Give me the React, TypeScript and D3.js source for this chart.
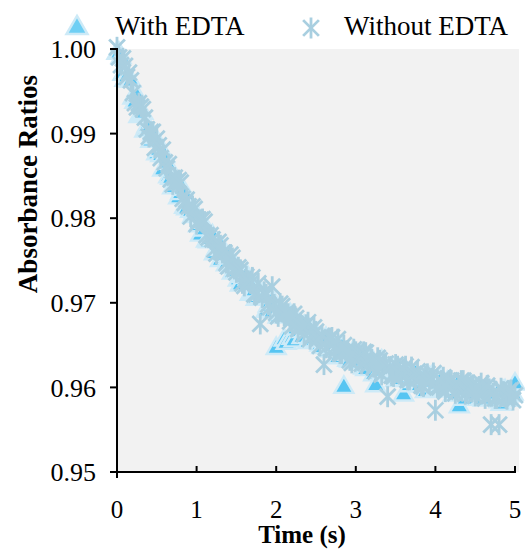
import React from "react";
import * as d3 from "d3";

const times = [
  0, 0.025, 0.05, 0.075, 0.1, 0.125, 0.15, 0.175, 0.2, 0.225,
  0.25, 0.275, 0.3, 0.325, 0.35, 0.375, 0.4, 0.425, 0.45, 0.475,
  0.5, 0.525, 0.55, 0.575, 0.6, 0.625, 0.65, 0.675, 0.7, 0.725,
  0.75, 0.775, 0.8, 0.825, 0.85, 0.875, 0.9, 0.925, 0.95, 0.975,
  1, 1.025, 1.05, 1.075, 1.1, 1.125, 1.15, 1.175, 1.2, 1.225,
  1.25, 1.275, 1.3, 1.325, 1.35, 1.375, 1.4, 1.425, 1.45, 1.475,
  1.5, 1.525, 1.55, 1.575, 1.6, 1.625, 1.65, 1.675, 1.7, 1.725,
  1.75, 1.775, 1.8, 1.825, 1.85, 1.875, 1.9, 1.925, 1.95, 1.975,
  2, 2.025, 2.05, 2.075, 2.1, 2.125, 2.15, 2.175, 2.2, 2.225,
  2.25, 2.275, 2.3, 2.325, 2.35, 2.375, 2.4, 2.425, 2.45, 2.475,
  2.5, 2.525, 2.55, 2.575, 2.6, 2.625, 2.65, 2.675, 2.7, 2.725,
  2.75, 2.775, 2.8, 2.825, 2.85, 2.875, 2.9, 2.925, 2.95, 2.975,
  3, 3.025, 3.05, 3.075, 3.1, 3.125, 3.15, 3.175, 3.2, 3.225,
  3.25, 3.275, 3.3, 3.325, 3.35, 3.375, 3.4, 3.425, 3.45, 3.475,
  3.5, 3.525, 3.55, 3.575, 3.6, 3.625, 3.65, 3.675, 3.7, 3.725,
  3.75, 3.775, 3.8, 3.825, 3.85, 3.875, 3.9, 3.925, 3.95, 3.975,
  4, 4.025, 4.05, 4.075, 4.1, 4.125, 4.15, 4.175, 4.2, 4.225,
  4.25, 4.275, 4.3, 4.325, 4.35, 4.375, 4.4, 4.425, 4.45, 4.475,
  4.5, 4.525, 4.55, 4.575, 4.6, 4.625, 4.65, 4.675, 4.7, 4.725,
  4.75, 4.775, 4.8, 4.825, 4.85, 4.875, 4.9, 4.925, 4.95, 4.975,
  5,
];

const withEDTA = [
  0.9995, 0.9995, 0.999, 0.997, 0.9963, 0.9967, 0.9962, 0.9962, 0.9942, 0.9937,
  0.9944, 0.992, 0.9921, 0.9924, 0.9903, 0.9908, 0.9906, 0.9891, 0.9899, 0.9895,
  0.9876, 0.988, 0.9874, 0.9857, 0.9873, 0.9865, 0.9849, 0.9847, 0.9836, 0.9844,
  0.9841, 0.9824, 0.9829, 0.9834, 0.9813, 0.9811, 0.982, 0.9808, 0.9802, 0.9807,
  0.9803, 0.9791, 0.978, 0.9795, 0.9786, 0.9773, 0.9772, 0.9775, 0.9779, 0.9758,
  0.9763, 0.9766, 0.975, 0.9764, 0.9756, 0.9745, 0.9753, 0.9742, 0.9735, 0.9745,
  0.9737, 0.9727, 0.9721, 0.9731, 0.973, 0.9733, 0.9728, 0.971, 0.9712, 0.9714,
  0.9704, 0.9706, 0.971, 0.971, 0.9708, 0.969, 0.9696, 0.97, 0.9689, 0.97,
  0.9646, 0.9683, 0.969, 0.9687, 0.9656, 0.9652, 0.9684, 0.9686, 0.9658, 0.9655,
  0.9669, 0.9676, 0.9666, 0.9659, 0.9672, 0.9668, 0.9653, 0.9668, 0.9658, 0.9655,
  0.9664, 0.9656, 0.965, 0.9647, 0.9655, 0.9658, 0.9643, 0.9646, 0.9652, 0.9649,
  0.9642, 0.9635, 0.9648, 0.9647, 0.96, 0.9639, 0.9632, 0.9631, 0.9639, 0.9643,
  0.963, 0.9629, 0.9638, 0.9637, 0.9623, 0.9621, 0.9629, 0.9628, 0.9633, 0.9615,
  0.9602, 0.9627, 0.9618, 0.9631, 0.9629, 0.9615, 0.9616, 0.9617, 0.962, 0.9622,
  0.9608, 0.9609, 0.962, 0.9616, 0.9591, 0.962, 0.9616, 0.9602, 0.9607, 0.961,
  0.9616, 0.9606, 0.9602, 0.9611, 0.961, 0.9595, 0.9602, 0.9611, 0.9612, 0.9606,
  0.9596, 0.9597, 0.9604, 0.961, 0.9596, 0.9597, 0.9606, 0.9601, 0.9599, 0.9591,
  0.9592, 0.9603, 0.9577, 0.96, 0.9601, 0.9586, 0.9592, 0.9602, 0.9601, 0.9592,
  0.9591, 0.9597, 0.9597, 0.9586, 0.9585, 0.9593, 0.96, 0.9597, 0.959, 0.9586,
  0.9593, 0.9592, 0.9583, 0.958, 0.9595, 0.9596, 0.9585, 0.9585, 0.959, 0.9592,
  0.9604,
];

const withoutEDTA = [
  1.0002, 0.999, 0.9981, 0.9989, 0.998, 0.9967, 0.9972, 0.9963, 0.9948, 0.9936,
  0.9931, 0.9936, 0.9932, 0.9929, 0.9919, 0.9905, 0.9896, 0.9902, 0.9902, 0.9883,
  0.9894, 0.9886, 0.9871, 0.9881, 0.9866, 0.9859, 0.9864, 0.9846, 0.984, 0.9848,
  0.9843, 0.9845, 0.9842, 0.9823, 0.9818, 0.9822, 0.9814, 0.9802, 0.9814, 0.9811,
  0.9793, 0.9797, 0.9798, 0.9799, 0.9796, 0.978, 0.9777, 0.978, 0.9775, 0.9763,
  0.9758, 0.9772, 0.9768, 0.9759, 0.9759, 0.9747, 0.9743, 0.9757, 0.9753, 0.974,
  0.9736, 0.9742, 0.9739, 0.9723, 0.972, 0.9731, 0.9726, 0.9723, 0.973, 0.971,
  0.971, 0.9723, 0.9675, 0.9706, 0.9713, 0.971, 0.9698, 0.9695, 0.9719, 0.9698,
  0.9688, 0.9684, 0.9699, 0.9696, 0.9685, 0.9688, 0.9687, 0.9678, 0.9672, 0.9687,
  0.9682, 0.9669, 0.9674, 0.9672, 0.9663, 0.9674, 0.9677, 0.9657, 0.9661, 0.9671,
  0.9666, 0.9658, 0.9649, 0.9661, 0.9627, 0.9647, 0.9656, 0.9658, 0.9659, 0.9646,
  0.9644, 0.9657, 0.964, 0.964, 0.965, 0.9643, 0.9643, 0.9632, 0.9629, 0.9645,
  0.9642, 0.9639, 0.9634, 0.9628, 0.9642, 0.9641, 0.9626, 0.9629, 0.9633, 0.9624,
  0.9619, 0.9635, 0.9632, 0.9615, 0.9627, 0.9628, 0.9589, 0.9624, 0.9614, 0.9613,
  0.9627, 0.9625, 0.9616, 0.9614, 0.9621, 0.9625, 0.9609, 0.9609, 0.9624, 0.9614,
  0.9608, 0.9619, 0.9612, 0.9602, 0.9601, 0.9613, 0.9616, 0.9606, 0.961, 0.9617,
  0.9573, 0.96, 0.96, 0.9608, 0.9612, 0.9595, 0.96, 0.9608, 0.9608, 0.9602,
  0.9593, 0.9597, 0.9602, 0.9608, 0.9608, 0.9592, 0.9595, 0.96, 0.9602, 0.9603,
  0.959, 0.9593, 0.9601, 0.9605, 0.9593, 0.9587, 0.9602, 0.9598, 0.9556, 0.9593,
  0.9587, 0.9587, 0.9556, 0.9599, 0.9595, 0.9589, 0.9586, 0.9596, 0.9597, 0.9585,
  0.9591,
];

const xTicks = [0, 1, 2, 3, 4, 5];
const yTicks = [0.95, 0.96, 0.97, 0.98, 0.99, 1.0];
const seriesNames = ["With EDTA", "Without EDTA"];

const W = 525;
const H = 549;
const left = 117;
const right = 515;
const top = 49;
const bottom = 472;

const FONT = "'Liberation Serif', 'Times New Roman', serif";
const TRI_FILL = "#56c5f2";
const TRI_STROKE = "#cdeaf7";
const AST = "#a9cfe0";

function trianglePath(cx: number, cy: number, s: number) {
  const h = (s * Math.sqrt(3)) / 2;
  return `M${cx},${cy - (2 * h) / 3}L${cx + s / 2},${cy + h / 3}L${cx - s / 2},${cy + h / 3}Z`;
}

function Asterisk({ cx, cy, r }: { cx: number; cy: number; r: number }) {
  const d = r * 0.75;
  return (
    <g stroke={AST} strokeWidth={2.8} strokeLinecap="butt">
      <line x1={cx} y1={cy - r} x2={cx} y2={cy + r} />
      <line x1={cx - d} y1={cy - d} x2={cx + d} y2={cy + d} />
      <line x1={cx - d} y1={cy + d} x2={cx + d} y2={cy - d} />
    </g>
  );
}

export default function App() {
  const x = d3.scaleLinear().domain([0, 5]).range([left, right]);
  const y = d3.scaleLinear().domain([0.95, 1.0]).range([bottom, top]);

  return (
    <svg
      width={W}
      height={H}
      style={{ position: "absolute", left: 0, top: 0, background: "#fff" }}
      fontFamily={FONT}
    >
      <rect x={left} y={top} width={519 - left} height={bottom - top} fill="#f2f2f2" />

      {/* With EDTA triangles */}
      <g>
        {times.map((t, i) => (
          <path
            key={"t" + i}
            d={trianglePath(x(t), y(withEDTA[i]), 19)}
            fill={TRI_FILL}
            stroke={TRI_STROKE}
            strokeWidth={2.4}
          />
        ))}
      </g>
      {/* Without EDTA asterisks */}
      <g>
        {times.map((t, i) => (
          <Asterisk key={"a" + i} cx={x(t)} cy={y(withoutEDTA[i])} r={10.5} />
        ))}
      </g>

      {/* Axes */}
      <g stroke="#000" strokeWidth={2}>
        <line x1={left} y1={top - 1} x2={left} y2={bottom + 6} />
        <line x1={left - 7} y1={bottom} x2={right + 1} y2={bottom} />
        {yTicks.map((v) => (
          <line key={"yt" + v} x1={left - 7} y1={y(v)} x2={left} y2={y(v)} />
        ))}
        {xTicks.slice(1).map((v) => (
          <line key={"xt" + v} x1={x(v)} y1={bottom} x2={x(v)} y2={bottom - 6} />
        ))}
      </g>
      {yTicks.map((v) => (
        <text
          key={"yl" + v}
          x={left - 21}
          y={y(v)}
          dy="0.35em"
          textAnchor="end"
          fontSize={26}
        >
          {d3.format(".2f")(v)}
        </text>
      ))}
      {xTicks.map((v) => (
        <text key={"xl" + v} x={x(v)} y={bottom + 46} textAnchor="middle" fontSize={25}>
          {v}
        </text>
      ))}
      <text x={302} y={543} textAnchor="middle" fontSize={25} fontWeight="bold">
        Time (s)
      </text>
      <text
        transform={`translate(37,${184}) rotate(-90)`}
        textAnchor="middle"
        fontSize={27}
        fontWeight="bold"
      >
        Absorbance Ratios
      </text>

      {/* Legend */}
      <path d={trianglePath(77, 28, 21)} fill="#6fcff4" stroke={TRI_STROKE} strokeWidth={2.5} />
      <text x={115} y={35} fontSize={27}>
        {seriesNames[0]}
      </text>
      <Asterisk cx={311} cy={28} r={10.5} />
      <text x={344} y={35} fontSize={27}>
        {seriesNames[1]}
      </text>
    </svg>
  );
}
